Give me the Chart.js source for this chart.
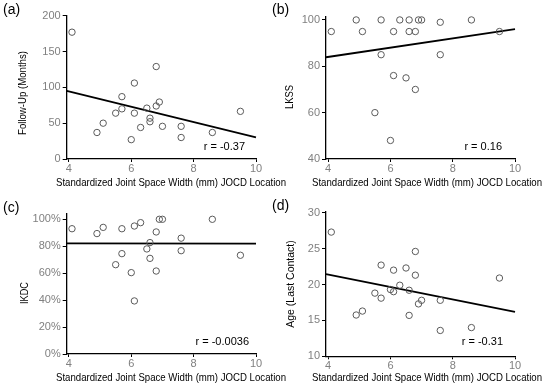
<!DOCTYPE html>
<html>
<head>
<meta charset="utf-8">
<script src="https://cdn.jsdelivr.net/npm/chart.js@4.4.1/dist/chart.umd.min.js"></script>
<style>
  body { margin: 0; background: #fff; }
  #fig { position: relative; width: 550px; height: 391px; overflow: hidden; }
  canvas { position: absolute; }
</style>
</head>
<body>
<div id="fig">
  <canvas id="ca" width="300" height="195" style="left:0;top:0"></canvas>
  <canvas id="cc" width="300" height="196" style="left:0;top:195px"></canvas>
  <canvas id="cb" width="285" height="195" style="left:265px;top:0"></canvas>
  <canvas id="cd" width="285" height="196" style="left:265px;top:195px"></canvas>
</div>
<script>
// x values: standardized joint space width (mm), same patients in every panel
const jsw = [4.1, 4.9, 5.1, 5.5, 5.7, 5.7, 6.0, 6.1, 6.1, 6.3, 6.5, 6.6, 6.6, 6.8, 6.8, 6.9, 7.0, 7.6, 7.6, 8.6, 9.5];

// y values per panel
const followUp = [177, 37, 50, 64, 87, 70, 27, 106, 64, 44, 71, 57, 52, 129, 74, 79.5, 45.6, 45.6, 30, 37, 66.5];
const lkss = [95, 100, 95, 60, 100, 85, 48, 95, 76, 100, 75, 100, 95, 95, 70, 100, 100, 99, 85, 100, 95];
const ikdc = [93, 89.4, 94, 66.3, 93, 74.5, 60.4, 95, 39.4, 97.5, 78, 82.7, 71, 90.6, 61.6, 100, 100, 86, 76.7, 100, 73.3];
const age = [27.3, 15.75, 16.3, 18.8, 22.7, 18.1, 19.3, 22, 19, 19.9, 22.3, 19.2, 15.7, 24.6, 21.3, 17.3, 17.8, 17.8, 13.6, 14, 20.9];

// regression line end points
const fitX = [3.93, 10];
const fitA = [95.2, 30.2];
const fitB = [83.9, 96];
const fitC = [82.1, 81.9];
const fitD = [21.45, 16.2];

// tick values
const xTicks = [4, 6, 8, 10];
const yTicksA = [0, 50, 100, 150, 200];
const yTicksB = [40, 60, 80, 100];
const yTicksC = [0, 20, 40, 60, 80, 100];
const yTicksD = [10, 15, 20, 25, 30];

const X_TITLE = "Standardized Joint Space Width (mm) JOCD Location";
const FONT = "'Liberation Sans', Arial, sans-serif";
const TICK_GREY = "#808080";

// panel labels, axis titles and r values drawn at page positions
const panelText = {
  id: "panelText",
  afterDraw(chart, args, o) {
    const ctx = chart.ctx;
    ctx.save();
    ctx.translate(-o.off[0], -o.off[1]);
    ctx.fillStyle = "#000";
    ctx.textBaseline = "middle";

    ctx.font = "14px " + FONT;
    ctx.textAlign = "left";
    ctx.fillText(o.label, o.labelPos[0], o.labelPos[1]);

    ctx.font = "11px " + FONT;
    ctx.textAlign = "right";
    ctx.fillText(o.r, o.rPos[0], o.rPos[1]);

    ctx.textAlign = "center";
    ctx.fillText(X_TITLE, o.xTitlePos[0], o.xTitlePos[1], 230);

    ctx.font = "10.5px " + FONT;
    ctx.translate(o.yTitlePos[0], o.yTitlePos[1]);
    ctx.rotate(-Math.PI / 2);
    ctx.fillText(o.yTitle, 0, 0, o.yTitleW);
    ctx.restore();
  }
};

function makePanel(id, ys, fit, yMin, yMax, yTicks, area, text, fmt) {
  const pts = jsw.map((x, i) => ({ x: x, y: ys[i] }));
  const line = fitX.map((x, i) => ({ x: x, y: fit[i] }));
  const canvas = document.getElementById(id);
  const H = canvas.height;
  const W = canvas.width;

  return new Chart(canvas, {
    type: "scatter",
    data: {
      datasets: [
        {
          data: pts,
          pointRadius: 3.2,
          pointBorderColor: "#5a5a5a",
          pointBackgroundColor: "rgba(255,255,255,0)",
          pointBorderWidth: 1,
          clip: false
        },
        {
          data: line,
          showLine: true,
          borderColor: "#000",
          borderWidth: 1.8,
          pointRadius: 0,
          clip: false
        }
      ]
    },
    options: {
      responsive: false,
      animation: false,
      devicePixelRatio: 1,
      events: [],
      layout: { padding: { left: 0, top: area.top, right: W - area.right, bottom: 0 } },
      plugins: {
        legend: { display: false },
        tooltip: { enabled: false },
        panelText: text
      },
      scales: {
        x: {
          type: "linear",
          min: 3.93,
          max: 10,
          afterBuildTicks: (s) => { s.ticks = xTicks.map((v) => ({ value: v })); },
          afterFit: (s) => { s.height = H - area.bottom; },
          ticks: { color: TICK_GREY, font: { family: FONT, size: 11 }, padding: 0, maxRotation: 0 },
          grid: { drawOnChartArea: false, color: "#000", tickLength: 3, lineWidth: 1 },
          border: { color: "#000", width: 1.3 }
        },
        y: {
          type: "linear",
          min: yMin,
          max: yMax,
          afterBuildTicks: (s) => { s.ticks = yTicks.map((v) => ({ value: v })); },
          afterFit: (s) => { s.width = area.left; },
          ticks: { color: TICK_GREY, font: { family: FONT, size: 11 }, padding: 2, callback: fmt },
          grid: { drawOnChartArea: false, color: "#000", tickLength: 4, lineWidth: 1 },
          border: { color: "#000", width: 1.3 }
        }
      }
    },
    plugins: [panelText]
  });
}

const plain = (v) => v;
const pct = (v) => v + "%";

makePanel("ca", followUp, fitA, 0, 200, yTicksA,
  { left: 66.7, right: 256, top: 15.7, bottom: 159 },
  { off: [0, 0], label: "(a)", labelPos: [3, 10], r: "r = -0.37", rPos: [245, 147],
    xTitlePos: [171, 183], yTitle: "Follow-Up (Months)", yTitlePos: [23, 93], yTitleW: 84 }, plain);

makePanel("cb", lkss, fitB, 40, 101.4, yTicksB,
  { left: 61, right: 250, top: 16.7, bottom: 159 },
  { off: [265, 0], label: "(b)", labelPos: [272, 10], r: "r = 0.16", rPos: [502, 147],
    xTitlePos: [427, 183], yTitle: "LKSS", yTitlePos: [290, 97], yTitleW: 24 }, plain);

makePanel("cc", ikdc, fitC, 0, 104.45, yTicksC,
  { left: 66.7, right: 256, top: 18.3, bottom: 159 },
  { off: [0, 195], label: "(c)", labelPos: [3, 208], r: "r = -0.0036", rPos: [249, 342],
    xTitlePos: [171, 378], yTitle: "IKDC", yTitlePos: [25, 293], yTitleW: 22 }, pct);

makePanel("cd", age, fitD, 10, 30.14, yTicksD,
  { left: 61, right: 250, top: 16.7, bottom: 161.3 },
  { off: [265, 195], label: "(d)", labelPos: [272, 206], r: "r = -0.31", rPos: [503, 342],
    xTitlePos: [427, 378], yTitle: "Age (Last Contact)", yTitlePos: [291, 284], yTitleW: 90 }, plain);
</script>
</body>
</html>
